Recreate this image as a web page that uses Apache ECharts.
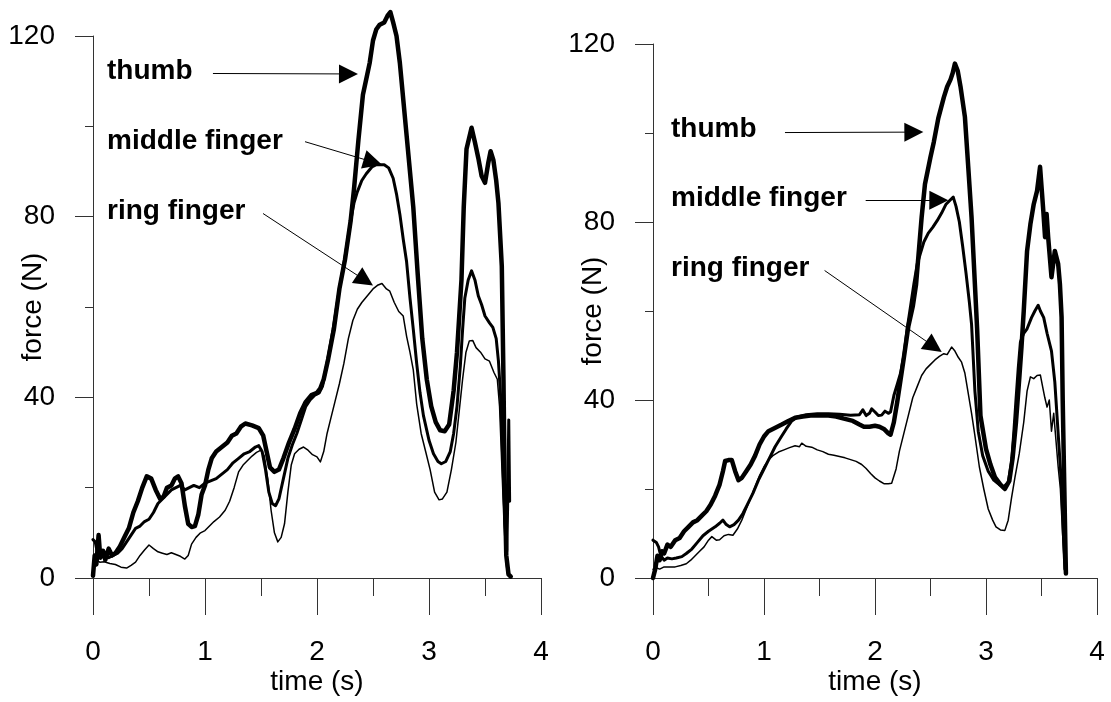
<!DOCTYPE html>
<html>
<head>
<meta charset="utf-8">
<script src="https://cdn.jsdelivr.net/npm/echarts@6/dist/echarts.min.js"></script>
<style>
html,body{margin:0;padding:0;background:#fff;}
#chart{width:1111px;height:702px;}
</style>
</head>
<body>
<div id="chart"></div>
<script>
// ---- data: [time (s), force (N)] ----
const leftThumb = [[0,0.5],[0.015,5],[0.03,3],[0.05,9.5],[0.065,4.5],[0.09,6],[0.11,4],[0.14,6.5],[0.17,5],[0.2,5.5],[0.24,7],[0.28,9],[0.32,11],[0.36,14.5],[0.4,17],[0.44,20],[0.48,22.5],[0.52,22],[0.56,19.5],[0.6,17.5],[0.63,18],[0.66,20],[0.7,20.5],[0.73,22],[0.76,22.5],[0.79,21],[0.82,16],[0.85,12],[0.88,11.3],[0.91,11.5],[0.94,14],[0.97,18.5],[1.0,20.5],[1.03,24],[1.06,26.5],[1.1,28],[1.15,29],[1.2,30],[1.24,31.5],[1.28,32],[1.32,33.5],[1.36,34.2],[1.42,33.8],[1.48,33.2],[1.52,31.5],[1.55,28],[1.58,24.5],[1.62,23.5],[1.66,24],[1.7,26.5],[1.75,30],[1.8,33],[1.85,36.5],[1.9,39],[1.95,40.5],[2.0,41],[2.03,42],[2.06,44],[2.1,48.5],[2.15,55],[2.2,64],[2.25,70.5],[2.3,79],[2.33,86],[2.37,97],[2.41,107],[2.44,110.5],[2.47,114],[2.5,119],[2.53,121.5],[2.56,122.5],[2.6,123],[2.63,124.5],[2.655,125.3],[2.68,123],[2.71,120],[2.74,114],[2.77,106],[2.8,98],[2.83,90],[2.86,82],[2.9,67],[2.94,53],[2.98,44],[3.02,38],[3.06,34.5],[3.1,32.7],[3.14,32.5],[3.18,34],[3.22,41.5],[3.25,50],[3.27,58],[3.29,66],[3.31,82],[3.335,95],[3.38,99.7],[3.41,96.5],[3.44,93],[3.47,89],[3.5,87.5],[3.53,92],[3.55,94.5],[3.575,92.5],[3.6,88],[3.62,83],[3.65,69],[3.665,44],[3.675,22],[3.69,5],[3.71,0.8],[3.73,0.3]];
const leftMiddle = [[0,8.5],[0.02,8],[0.04,5.5],[0.07,4.5],[0.1,5.5],[0.14,4.5],[0.18,5],[0.22,5.5],[0.26,6.5],[0.3,8],[0.34,9.5],[0.38,11],[0.42,11.5],[0.46,12.5],[0.5,13],[0.54,14.5],[0.58,16.5],[0.62,17.5],[0.66,18.5],[0.7,19.5],[0.74,20],[0.78,20.5],[0.82,19.5],[0.86,20],[0.9,20.5],[0.95,20],[1.0,21],[1.05,21.5],[1.1,22],[1.15,23],[1.2,24],[1.25,25.5],[1.3,26.5],[1.35,27.5],[1.4,28],[1.45,29],[1.48,29.3],[1.51,28],[1.54,24],[1.57,19],[1.6,16.5],[1.63,16],[1.66,17.5],[1.7,22],[1.74,26.5],[1.78,29.5],[1.82,32],[1.86,35],[1.9,38],[1.94,39.5],[1.98,40.5],[2.02,41],[2.05,42.5],[2.1,49],[2.15,56],[2.2,64],[2.25,71],[2.3,79],[2.33,83],[2.36,85.5],[2.4,88],[2.44,89.5],[2.49,91],[2.53,91.5],[2.6,91.5],[2.64,90.8],[2.68,88.5],[2.71,85],[2.74,80.5],[2.77,75],[2.8,70],[2.83,62],[2.86,55],[2.89,47.5],[2.92,41],[2.95,36],[3.0,30.5],[3.04,27.5],[3.08,25.8],[3.11,25.3],[3.15,25.8],[3.19,28],[3.22,32],[3.25,38],[3.28,47],[3.3,55],[3.32,62],[3.35,66],[3.38,68],[3.41,66],[3.44,62.5],[3.47,60.5],[3.5,58],[3.54,56.5],[3.57,55.5],[3.6,53],[3.62,48],[3.64,40],[3.66,25],[3.68,12],[3.695,6],[3.705,20],[3.712,35],[3.72,17]];
const leftRing = [[0,3.5],[0.03,4],[0.06,3.5],[0.1,3.6],[0.15,3.2],[0.2,3],[0.25,2.4],[0.3,2.2],[0.34,2.8],[0.38,3.5],[0.42,5],[0.46,6.2],[0.5,7.3],[0.54,6.5],[0.58,5.8],[0.62,5.5],[0.66,5.2],[0.7,5.6],[0.74,5.2],[0.78,4.8],[0.82,4.2],[0.85,5],[0.88,7.5],[0.92,9],[0.96,10],[1.0,10.5],[1.04,11.5],[1.08,12.5],[1.13,13.5],[1.18,15],[1.22,17],[1.26,20],[1.3,23.5],[1.34,25],[1.38,26],[1.42,27],[1.46,27.8],[1.5,28.3],[1.53,27],[1.56,22],[1.59,15],[1.62,10],[1.65,8],[1.68,9],[1.71,12],[1.74,19],[1.77,25],[1.8,27.5],[1.84,28.5],[1.88,29],[1.92,28.3],[1.96,27.3],[2.0,26.8],[2.03,25.7],[2.06,28],[2.09,32],[2.12,35],[2.16,39],[2.2,43],[2.24,47.5],[2.28,53],[2.32,57],[2.36,59.5],[2.4,61],[2.45,62.5],[2.5,64],[2.54,64.8],[2.58,65.2],[2.62,64],[2.65,63.5],[2.69,61],[2.73,59],[2.77,58],[2.8,53.5],[2.83,50],[2.86,46],[2.89,38.5],[2.93,32],[2.97,28],[3.01,24],[3.05,19],[3.09,17.3],[3.12,17.5],[3.16,19],[3.2,24],[3.24,30],[3.27,37],[3.3,44],[3.33,50],[3.36,52.5],[3.39,52.6],[3.42,51],[3.46,50],[3.5,48.5],[3.54,48],[3.58,45.5],[3.61,44],[3.63,38],[3.65,25],[3.67,12],[3.69,3],[3.7,1]];

const rightThumb = [[0,0],[0.02,2],[0.04,5],[0.06,4],[0.08,6],[0.1,5.5],[0.13,7.5],[0.16,7],[0.2,8.5],[0.24,9],[0.28,10.5],[0.32,11.5],[0.36,12.5],[0.4,13],[0.44,14],[0.48,15],[0.52,16.5],[0.56,18.5],[0.6,21],[0.63,24],[0.65,26.3],[0.68,26.5],[0.71,26.5],[0.74,24],[0.77,22],[0.8,22.5],[0.84,24],[0.88,25.5],[0.92,27.5],[0.96,30],[1.0,31.8],[1.04,33],[1.08,33.5],[1.12,34],[1.16,34.5],[1.22,35.3],[1.28,36],[1.35,36.3],[1.42,36.5],[1.5,36.6],[1.58,36.5],[1.65,36.3],[1.72,35.8],[1.8,35.3],[1.86,34.5],[1.9,34],[1.95,34],[2.0,34.2],[2.04,34],[2.08,33.5],[2.12,32.5],[2.14,32.2],[2.17,35],[2.2,39.5],[2.23,44.5],[2.26,49.5],[2.3,56.5],[2.34,61],[2.37,66],[2.39,72],[2.42,81],[2.45,88.5],[2.5,94.6],[2.53,98],[2.57,103.3],[2.62,108],[2.65,110.4],[2.68,112],[2.7,113.5],[2.72,115.6],[2.745,114],[2.77,110.5],[2.81,103.6],[2.84,92.4],[2.87,81],[2.9,66],[2.92,56],[2.95,36.5],[3.0,29],[3.04,25.5],[3.08,22.7],[3.13,21],[3.17,20],[3.21,21.8],[3.24,27],[3.27,35],[3.3,45],[3.32,52],[3.34,60],[3.37,73.5],[3.4,79.5],[3.43,84],[3.46,87],[3.475,90],[3.487,92.4],[3.5,88],[3.516,82.6],[3.532,76.6],[3.546,81.8],[3.56,76.6],[3.59,67.6],[3.62,73.5],[3.65,70.6],[3.666,66],[3.681,58.6],[3.691,40],[3.702,25],[3.72,1]];
const rightMiddle = [[0,8.5],[0.03,8],[0.05,7],[0.07,5],[0.1,4],[0.13,4.5],[0.17,4.3],[0.21,4.5],[0.26,4.8],[0.3,5.5],[0.35,6.5],[0.4,8],[0.45,9.5],[0.5,10.5],[0.56,11.5],[0.6,12.3],[0.63,13],[0.66,12],[0.69,11.5],[0.73,12],[0.77,13],[0.81,14.5],[0.85,16.5],[0.9,19],[0.95,22],[1.0,24.5],[1.05,27],[1.1,29.5],[1.15,31.5],[1.2,33.5],[1.25,35.3],[1.3,36.2],[1.38,36.7],[1.48,36.9],[1.58,36.9],[1.68,36.8],[1.78,36.6],[1.86,36.7],[1.89,37.8],[1.92,36.5],[1.95,37],[1.97,38],[2.0,37.3],[2.03,36.5],[2.06,36.6],[2.09,37.5],[2.12,37],[2.14,37.3],[2.17,41],[2.2,43.5],[2.23,46],[2.26,50],[2.29,56],[2.32,61],[2.35,66],[2.38,70.5],[2.41,73],[2.44,75.5],[2.48,77.5],[2.52,78.8],[2.56,80.3],[2.6,82],[2.64,84],[2.68,85],[2.705,85.6],[2.73,83.5],[2.76,80],[2.79,74.5],[2.82,68.5],[2.85,62],[2.87,57],[2.9,42],[2.93,33],[2.97,27.5],[3.02,24],[3.07,22],[3.12,21],[3.16,20.5],[3.2,21.5],[3.23,26],[3.25,32.5],[3.27,40],[3.29,47],[3.31,53],[3.34,55],[3.37,56],[3.41,58.5],[3.44,60],[3.47,61.3],[3.49,60],[3.52,58.5],[3.55,55],[3.59,51],[3.62,44],[3.65,32.5],[3.68,21],[3.7,8],[3.711,2]];
const rightRing = [[0,2],[0.03,2.3],[0.06,2],[0.1,2.5],[0.15,2.5],[0.2,2.5],[0.25,2.8],[0.3,3.2],[0.34,4],[0.38,5],[0.42,6],[0.46,7],[0.5,8.5],[0.53,9.3],[0.57,8.5],[0.6,8.6],[0.64,9.5],[0.68,9.8],[0.72,9.6],[0.76,11],[0.8,13],[0.84,15.5],[0.88,18],[0.92,20.5],[0.96,23],[1.0,25],[1.04,26.5],[1.08,27.5],[1.13,28.3],[1.18,28.8],[1.23,29.3],[1.28,29.7],[1.32,29.5],[1.34,30.3],[1.38,29.6],[1.43,29.4],[1.48,28.8],[1.53,28.4],[1.58,27.8],[1.63,27.6],[1.68,27.3],[1.73,27],[1.78,26.6],[1.83,26.2],[1.88,25.5],[1.92,24.6],[1.96,23.5],[2.0,22.5],[2.04,21.8],[2.08,21.2],[2.12,21.2],[2.15,21.3],[2.19,24.5],[2.22,28.5],[2.26,32.5],[2.3,36.5],[2.34,40.5],[2.38,43],[2.42,45.5],[2.46,47],[2.5,48],[2.54,49],[2.58,49.8],[2.62,50.4],[2.65,50.2],[2.69,51.9],[2.72,51],[2.75,49.6],[2.78,48.5],[2.81,46],[2.84,41.5],[2.87,37],[2.9,32],[2.94,25],[2.98,20],[3.02,15.5],[3.06,13],[3.09,11.5],[3.13,10.8],[3.17,10.7],[3.2,13],[3.23,18],[3.26,22.5],[3.3,28],[3.34,35],[3.37,42],[3.4,45.2],[3.43,44.8],[3.46,45.5],[3.49,45.6],[3.51,43],[3.53,40.5],[3.55,38.4],[3.57,40],[3.59,33],[3.61,37],[3.63,31],[3.65,25],[3.67,20],[3.69,10],[3.71,1]];

// annotation labels and arrows (data coordinates: [time, force])
const seriesNames = ['thumb', 'middle finger', 'ring finger'];
const leftLabelPos = [[0.125, 112.2], [0.125, 96.7], [0.125, 81.3]];
const leftArrows = [[[1.071, 111.7], [2.281, 111.6]], [[1.893, 96.6], [2.499, 92.1]], [[1.518, 80.7], [2.429, 65.9]]];
const rightLabelPos = [[0.162, 100.8], [0.162, 85.3], [0.162, 69.5]];
const rightArrows = [[[1.189, 100.1], [2.35, 100.2]], [[1.916, 85.0], [2.575, 84.9]], [[1.546, 69.1], [2.531, 52.0]]];

const xTicks = [0, 1, 2, 3, 4];
const yTicks = [0, 40, 80, 120];

const FONT = "'Liberation Sans', Arial, sans-serif";
const AXIS_COLOR = '#333';

function xAxis(gridIndex) {
  return {
    gridIndex, type: 'value', min: xTicks[0], max: xTicks[xTicks.length - 1], interval: 1,
    name: 'time (s)', nameLocation: 'middle', nameGap: 90, nameMoveOverlap: false,
    nameTextStyle: { fontFamily: FONT, fontSize: 28, color: '#000' },
    axisLine: { show: true, onZero: false, lineStyle: { color: AXIS_COLOR, width: 1 } },
    axisTick: { show: true, length: 37, lineStyle: { color: AXIS_COLOR, width: 1 } },
    minorTick: { show: true, splitNumber: 2, length: 18, lineStyle: { color: AXIS_COLOR, width: 1 } },
    splitLine: { show: false }, minorSplitLine: { show: false },
    axisLabel: { fontFamily: FONT, fontSize: 28, color: '#000', margin: 60 }
  };
}
function yAxis(gridIndex) {
  return {
    gridIndex, type: 'value', min: yTicks[0], max: yTicks[yTicks.length - 1], interval: 40,
    name: 'force (N)', nameLocation: 'middle', nameGap: 46, nameRotate: 90, nameMoveOverlap: false,
    nameTextStyle: { fontFamily: FONT, fontSize: 28, color: '#000' },
    axisLine: { show: true, onZero: false, lineStyle: { color: AXIS_COLOR, width: 1 } },
    axisTick: { show: true, length: 18, lineStyle: { color: AXIS_COLOR, width: 1 } },
    minorTick: { show: true, splitNumber: 2, length: 8, lineStyle: { color: AXIS_COLOR, width: 1 } },
    splitLine: { show: false }, minorSplitLine: { show: false },
    axisLabel: { fontFamily: FONT, fontSize: 28, color: '#000', margin: 38 }
  };
}
function line(name, data, idx, width) {
  return {
    name, type: 'line', data, xAxisIndex: idx, yAxisIndex: idx,
    showSymbol: false, symbol: 'none', clip: false, smooth: false,
    lineStyle: { color: '#000', width, join: 'round', cap: 'round' },
    emphasis: { disabled: true }, silent: true, z: 3
  };
}
function annotations(idx, labelPos, arrows) {
  return {
    type: 'line', data: [], xAxisIndex: idx, yAxisIndex: idx, silent: true,
    markPoint: {
      symbol: 'circle', symbolSize: 0, silent: true, animation: false,
      label: { show: true, position: 'right', distance: 0, formatter: p => p.name,
        fontFamily: FONT, fontSize: 28, fontWeight: 'bold', color: '#000' },
      data: seriesNames.map((n, i) => ({ name: n, coord: labelPos[i] }))
    },
    markLine: {
      silent: true, animation: false, symbol: ['none', 'triangle'], symbolSize: 19,
      label: { show: false },
      lineStyle: { color: '#000', width: 1, type: 'solid' },
      itemStyle: { color: '#000' },
      emphasis: { disabled: true },
      data: arrows.map(a => [
        { coord: a[0], symbol: 'none' },
        { coord: a[1], symbol: 'triangle', symbolSize: 19 }
      ])
    }
  };
}

const chart = echarts.init(document.getElementById('chart'), null, { renderer: 'canvas' });
chart.setOption({
  animation: false,
  backgroundColor: '#fff',
  grid: [
    { left: 93, top: 36, width: 448, height: 542, outerBoundsMode: 'none', containLabel: false },
    { left: 653, top: 44, width: 444, height: 534, outerBoundsMode: 'none', containLabel: false }
  ],
  xAxis: [xAxis(0), xAxis(1)],
  yAxis: [yAxis(0), yAxis(1)],
  series: [
    line('ring finger', leftRing, 0, 1.5),
    line('middle finger', leftMiddle, 0, 3),
    line('thumb', leftThumb, 0, 4.5),
    annotations(0, leftLabelPos, leftArrows),
    line('ring finger', rightRing, 1, 1.5),
    line('middle finger', rightMiddle, 1, 3),
    line('thumb', rightThumb, 1, 4.5),
    annotations(1, rightLabelPos, rightArrows)
  ]
});
</script>
</body>
</html>
